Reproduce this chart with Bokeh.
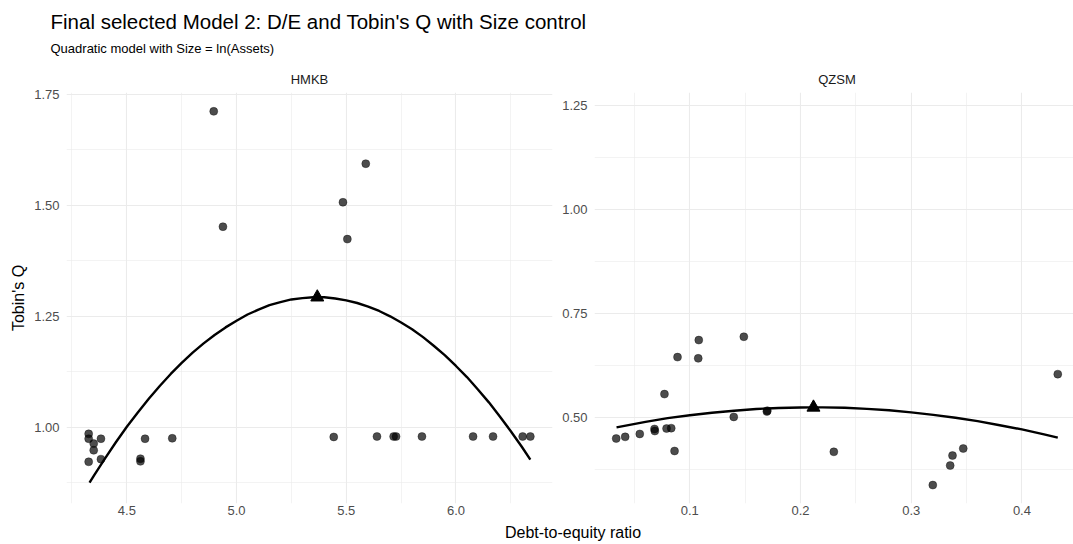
from bokeh.plotting import figure
from bokeh.layouts import column, row
from bokeh.models import Range1d, FixedTicker, NumeralTickFormatter, Label
from bokeh.embed import file_html
from bokeh.resources import INLINE

FONT = "Liberation Sans"

# ---------------- data ----------------
title_text = "Final selected Model 2: D/E and Tobin's Q with Size control"
subtitle_text = "Quadratic model with Size = ln(Assets)"
x_title = "Debt-to-equity ratio"
y_title = "Tobin's Q"
panel_names = ["HMKB", "QZSM"]

hmkb_de = [4.326, 4.326, 4.349, 4.382, 4.349, 4.326, 4.382, 4.562, 4.562, 4.583,
           4.707, 4.896, 4.938, 5.443, 5.485, 5.505, 5.589, 5.640, 5.716, 5.727,
           5.845, 6.078, 6.169, 6.304, 6.339]
hmkb_q = [0.985, 0.974, 0.963, 0.974, 0.948, 0.922, 0.928, 0.929, 0.923, 0.974,
          0.975, 1.712, 1.452, 0.978, 1.507, 1.424, 1.594, 0.979, 0.979, 0.979,
          0.979, 0.979, 0.979, 0.979, 0.979]
hmkb_fit_de = [4.33, 4.35, 4.40, 4.45, 4.50, 4.55, 4.60, 4.65, 4.70, 4.75, 4.80, 4.85,
               4.90, 4.95, 5.00, 5.05, 5.10, 5.15, 5.20, 5.25, 5.30, 5.35, 5.40, 5.45,
               5.50, 5.55, 5.60, 5.65, 5.70, 5.75, 5.80, 5.85, 5.90, 5.95, 6.00, 6.05,
               6.10, 6.15, 6.20, 6.25, 6.30, 6.339]
hmkb_fit_q = [0.875, 0.891, 0.929, 0.966, 1.001, 1.033, 1.064, 1.093, 1.120, 1.145, 1.168, 1.189,
              1.208, 1.225, 1.240, 1.254, 1.265, 1.275, 1.282, 1.288, 1.291, 1.293, 1.293, 1.290,
              1.286, 1.280, 1.272, 1.262, 1.250, 1.236, 1.221, 1.203, 1.183, 1.162, 1.138, 1.113,
              1.085, 1.056, 1.024, 0.991, 0.956, 0.927]
hmkb_peak_de = [5.368]
hmkb_peak_q = [1.293]

qzsm_de = [0.0335, 0.0416, 0.0548, 0.0681, 0.0684, 0.0790, 0.0832, 0.0771, 0.0862, 0.0889,
           0.1076, 0.1081, 0.1488, 0.1397, 0.1696, 0.1700, 0.2301, 0.3195, 0.3352, 0.3373,
           0.3470, 0.4324]
qzsm_q = [0.449, 0.453, 0.460, 0.472, 0.467, 0.473, 0.474, 0.556, 0.419, 0.645,
          0.642, 0.686, 0.694, 0.501, 0.514, 0.516, 0.417, 0.337, 0.384, 0.408,
          0.425, 0.604]
qzsm_fit_de = [0.0338, 0.06, 0.08, 0.10, 0.12, 0.14, 0.16, 0.18, 0.20, 0.212, 0.22, 0.24, 0.26,
               0.28, 0.30, 0.32, 0.34, 0.36, 0.38, 0.40, 0.42, 0.4324]
qzsm_fit_q = [0.476, 0.489, 0.498, 0.505, 0.511, 0.516, 0.520, 0.5225, 0.5238, 0.524, 0.5239,
              0.523, 0.5205, 0.517, 0.512, 0.506, 0.499, 0.491, 0.481, 0.471, 0.459, 0.451]
qzsm_peak_de = [0.2117]
qzsm_peak_q = [0.524]

hmkb_xticks = [4.5, 5.0, 5.5, 6.0]
hmkb_xminor = [4.25, 4.75, 5.25, 5.75, 6.25]
hmkb_yticks = [1.0, 1.25, 1.5, 1.75]
hmkb_yminor = [0.875, 1.125, 1.375, 1.625]
qzsm_xticks = [0.1, 0.2, 0.3, 0.4]
qzsm_xminor = [0.05, 0.15, 0.25, 0.35, 0.45]
qzsm_yticks = [0.5, 0.75, 1.0, 1.25]
qzsm_yminor = [0.375, 0.625, 0.875, 1.125]

# ---------------- styling helpers ----------------
GRID = "#EBEBEB"
TICK_COL = "#4D4D4D"


def blank(width, height):
    f = figure(width=width, height=height, x_range=Range1d(0, width), y_range=Range1d(height, 0),
               toolbar_location=None, output_backend="svg", title=None, min_border=0)
    f.axis.visible = False
    f.grid.visible = False
    f.outline_line_color = None
    f.background_fill_color = "white"
    f.border_fill_color = "white"
    return f


def panel(width, height, xr, yr, xt, xm, yt, ym, left, right, ylabel=None):
    p = figure(width=width, height=height, x_range=Range1d(*xr), y_range=Range1d(*yr),
               toolbar_location=None, output_backend="svg", title=None,
               min_border_left=left, min_border_right=right, min_border_top=4, min_border_bottom=18)
    p.outline_line_color = None
    p.xaxis.ticker = FixedTicker(ticks=xt, minor_ticks=xm)
    p.yaxis.ticker = FixedTicker(ticks=yt, minor_ticks=ym)
    p.xaxis.formatter = NumeralTickFormatter(format="0.0")
    p.yaxis.formatter = NumeralTickFormatter(format="0.00")
    for ax in p.axis:
        ax.axis_line_color = None
        ax.major_tick_line_color = None
        ax.minor_tick_line_color = None
        ax.major_tick_out = 0
        ax.minor_tick_out = 0
        ax.major_label_text_font = FONT
        ax.major_label_text_font_size = "13px"
        ax.major_label_text_color = TICK_COL
    p.xaxis.major_label_standoff = 2
    p.yaxis.major_label_standoff = 7
    for g in (p.xgrid, p.ygrid):
        g.grid_line_color = GRID
        g.grid_line_width = 1.1
        g.minor_grid_line_color = GRID
        g.minor_grid_line_width = 0.6
    if ylabel:
        p.yaxis.axis_label = ylabel
        p.yaxis.axis_label_text_font = FONT
        p.yaxis.axis_label_text_font_size = "16px"
        p.yaxis.axis_label_text_font_style = "normal"
        p.yaxis.axis_label_text_color = "black"
        p.yaxis.axis_label_standoff = 4
    return p


def draw(p, xs, ys, fx, fy, px, py):
    p.line(fx, fy, line_color="black", line_width=2.4)
    p.scatter(xs, ys, size=8, marker="circle", fill_color="black", fill_alpha=0.7,
              line_color="black", line_alpha=0.7, line_width=0.5)
    p.scatter(px, py, size=13, marker="triangle", fill_color="black", line_color="black")


# ---------------- layout (page has no margin: figure pixels = picture pixels) ----------------
W, H = 1073, 544
TOP_H, PANEL_H = 88, 433
BOTTOM_H = H - TOP_H - PANEL_H

top = blank(W, TOP_H)
top.add_layout(Label(x=50, y=21, text=title_text, text_font=FONT, text_font_size="20.5px",
                     text_color="black", text_align="left", text_baseline="middle"))
top.add_layout(Label(x=50, y=48, text=subtitle_text, text_font=FONT, text_font_size="13px",
                     text_color="black", text_align="left", text_baseline="middle"))
top.add_layout(Label(x=309, y=79, text=panel_names[0], text_font=FONT, text_font_size="13px",
                     text_color="#1A1A1A", text_align="center", text_baseline="middle"))
top.add_layout(Label(x=836.5, y=79, text=panel_names[1], text_font=FONT, text_font_size="13px",
                     text_color="#1A1A1A", text_align="center", text_baseline="middle"))

p1 = panel(553, PANEL_H, (4.225, 6.44), (0.828, 1.7545), hmkb_xticks, hmkb_xminor,
           hmkb_yticks, hmkb_yminor, 66, 1, ylabel=y_title)
draw(p1, hmkb_de, hmkb_q, hmkb_fit_de, hmkb_fit_q, hmkb_peak_de, hmkb_peak_q)

p2 = panel(W - 553, PANEL_H, (0.0139, 0.4466), (0.2926, 1.282), qzsm_xticks, qzsm_xminor,
           qzsm_yticks, qzsm_yminor, 41, 0)
draw(p2, qzsm_de, qzsm_q, qzsm_fit_de, qzsm_fit_q, qzsm_peak_de, qzsm_peak_q)

bottom = blank(W, BOTTOM_H)
bottom.add_layout(Label(x=572.5, y=11, text=x_title, text_font=FONT, text_font_size="16px",
                        text_color="black", text_align="center", text_baseline="alphabetic"))

layout = column(top, row(p1, p2, spacing=0), bottom, spacing=0)

with open("out.html", "w") as fh:
    fh.write(file_html(layout, INLINE))
